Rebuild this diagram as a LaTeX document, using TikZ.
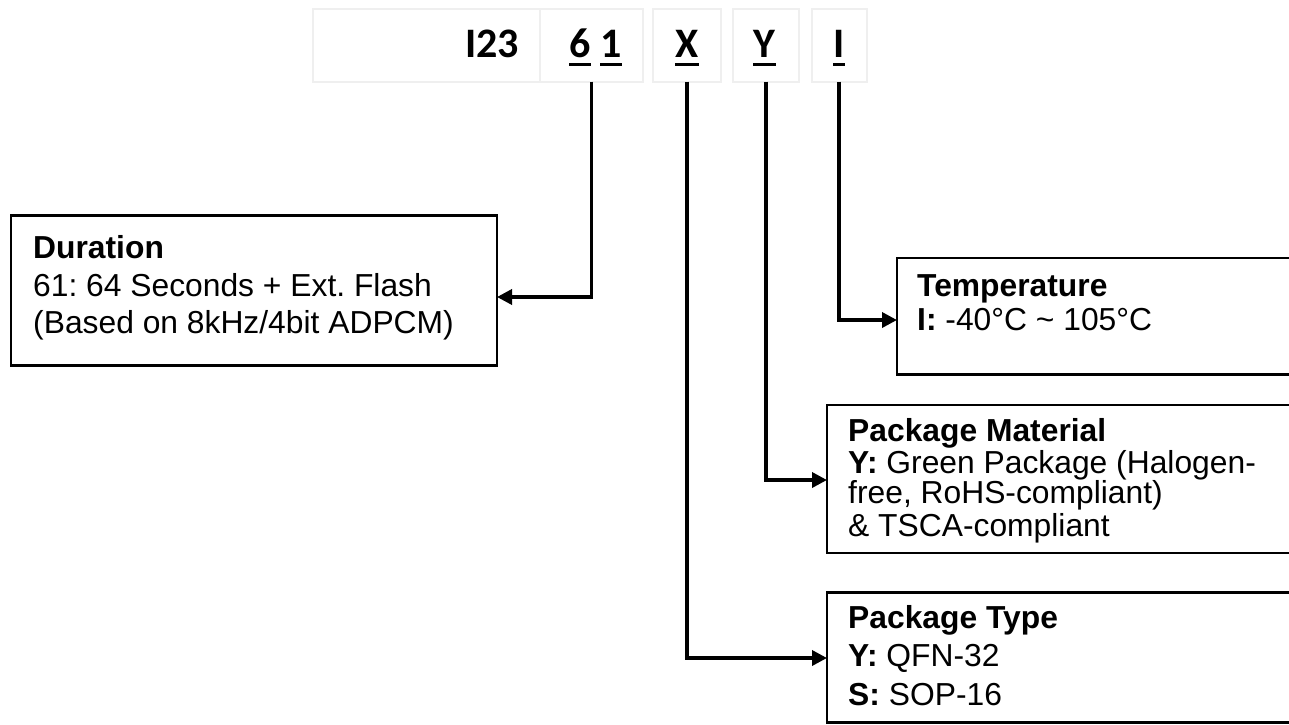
\documentclass[tikz,border=0pt]{standalone}
\usepackage{fontspec}
\setmainfont{Liberation Sans}
\newfontfamily\calfont{Carlito}
\usetikzlibrary{arrows.meta,calc}
\definecolor{boxgray}{HTML}{EFEFEF}
\frenchspacing
\begin{document}
\begin{tikzpicture}[x=1pt,y=-1pt,
  topbox/.style={draw=boxgray,line width=2pt,inner sep=0pt,outer sep=0pt,anchor=north west,minimum height=72.7pt},
  infobox/.style={draw=black,line width=2.5pt,inner sep=0pt,outer sep=0pt,anchor=north west},
  code/.style={font=\calfont\bfseries\fontsize{42}{50}\selectfont,inner sep=0pt,anchor=base},
  txt/.style={font=\frenchspacing\fontsize{31.8}{37}\selectfont,inner sep=0pt,anchor=base west},
  conn/.style={line width=3.5pt,-{Triangle[length=15pt,width=15pt]}},
  uline/.style={line width=2.7pt}]
\useasboundingbox (0,0) rectangle (1289,724);
\clip (0,0) rectangle (1289,724);
% top code boxes
\node[topbox,minimum width=227.3pt] (b1) at (312.7,9) {};
\node[topbox,minimum width=103pt] (b2) at (540,9) {};
\node[topbox,minimum width=67.7pt] (b3) at (653.3,9) {};
\node[topbox,minimum width=66.6pt] (b4) at (732.7,9) {};
\node[topbox,minimum width=55pt] (b5) at (811.7,9) {};
\node[code,anchor=base east] (t123) at (519,57.3) {I23};
\node[code] (d6) at (580,57.3) {6};
\node[code] (d1) at (611,57.3) {1};
\node[code] (dx) at (687,57.3) {X};
\node[code] (dy) at (764.5,57.3) {Y};
\node[code] (di) at (839,57.3) {I};
\foreach \n in {d6,d1,dx,dy,di}
  \draw[uline] ($(\n.base west)+(0,7)$) -- ($(\n.base east)+(0,7)$);
% info boxes
\node[infobox,minimum width=486pt,minimum height=150pt] (dur) at (11,215.5) {};
\node[infobox,minimum width=413pt,minimum height=116.5pt] (temp) at (897,258) {};
\node[infobox,minimum width=483pt,minimum height=148pt] (mat) at (827,405) {};
\node[infobox,minimum width=483pt,minimum height=130pt] (typ) at (827,592.5) {};
% texts
\node[txt] (dur1) at (33,258) {\bfseries Duration};
\node[txt] (dur2) at (33,296.5) {61: 64 Seconds + Ext. Flash};
\node[txt] (dur3) at (33,333) {(Based on 8kHz/4bit ADPCM)};
\node[txt] (tmp1) at (917,296.7) {\bfseries Temperature};
\node[txt] (tmp2) at (917,330.7) {\textbf{I:} -40°C \textasciitilde{} 105°C};
\node[txt] (mat1) at (848,441.7) {\bfseries Package Material};
\node[txt] (mat2) at (848,473) {\textbf{Y:} Green Package (Halogen-};
\node[txt] (mat3) at (848,503) {free, RoHS-compliant)};
\node[txt] (mat4) at (848,536.7) {\& TSCA-compliant};
\node[txt] (typ1) at (848,628) {\bfseries Package Type};
\node[txt] (typ2) at (848,666.7) {\textbf{Y:} QFN-32};
\node[txt] (typ3) at (848,705) {\textbf{S:} SOP-16};
% connectors
\draw[conn] (b2.south) |- ($(dur.north east)+(0,81.5)$);
\draw[conn] (b5.south) |- ($(temp.north west)+(0,62)$);
\draw[conn] (b4.south) |- ($(mat.north west)+(0,75)$);
\draw[conn] (b3.south) |- ($(typ.north west)+(0,65.5)$);
\end{tikzpicture}
\end{document}
